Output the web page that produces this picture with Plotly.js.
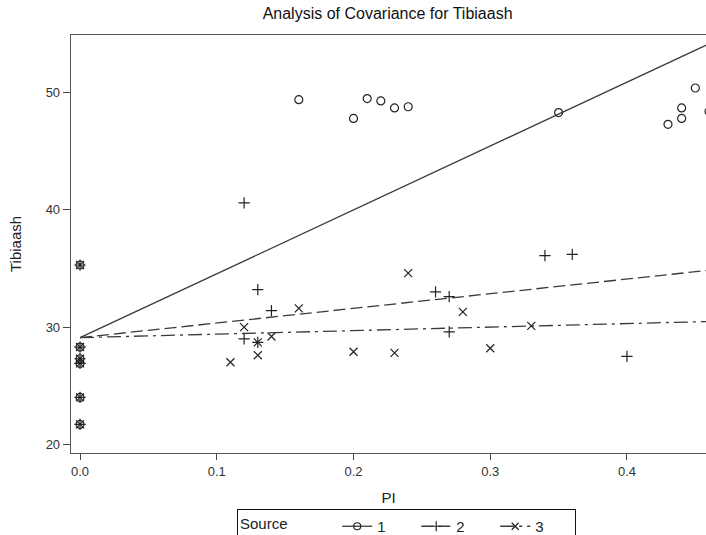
<!DOCTYPE html>
<html>
<head>
<meta charset="utf-8">
<script src="https://cdn.plot.ly/plotly-3.0.1.min.js"></script>
<style>html,body{margin:0;padding:0;background:#fff;}</style>
</head>
<body>
<div id="chart" style="width:706px;height:535px;"></div>
<script>
// Source groups
var groupNames = ["1", "2", "3"];

// Group 1 (circles)
var pi1  = [0, 0, 0, 0, 0, 0, 0.16, 0.20, 0.21, 0.22, 0.23, 0.24, 0.35, 0.43, 0.44, 0.44, 0.45, 0.46];
var tib1 = [35.3, 28.3, 27.3, 26.9, 24.0, 21.7, 49.4, 47.8, 49.5, 49.3, 48.7, 48.8, 48.3, 47.3, 48.7, 47.8, 50.4, 48.4];

// Group 2 (plus)
var pi2  = [0, 0, 0, 0, 0, 0, 0.12, 0.13, 0.14, 0.12, 0.13, 0.26, 0.27, 0.27, 0.34, 0.36, 0.40];
var tib2 = [35.3, 28.3, 27.3, 26.9, 24.0, 21.7, 40.6, 33.2, 31.4, 29.0, 28.7, 33.0, 32.6, 29.6, 36.1, 36.2, 27.5];

// Group 3 (x)
var pi3  = [0, 0, 0, 0, 0, 0, 0.11, 0.12, 0.13, 0.13, 0.14, 0.16, 0.20, 0.23, 0.24, 0.28, 0.30, 0.33];
var tib3 = [35.3, 28.3, 27.3, 26.9, 24.0, 21.7, 27.0, 30.0, 27.6, 28.7, 29.2, 31.6, 27.9, 27.8, 34.6, 31.3, 28.2, 30.1];

// Fitted ANCOVA lines (common intercept, separate slopes)
var fitIntercept = [29.1, 29.1, 29.1];
var fitSlope = [54.5, 12.5, 3.0];

var xTicks = [0, 0.1, 0.2, 0.3, 0.4];
var yTicks = [20, 30, 40, 50];

var piData = [pi1, pi2, pi3];
var tibData = [tib1, tib2, tib3];
var symbols = ["circle-open", "cross-thin-open", "x-thin-open"];
var dashes = ["solid", "12px,5px", "14px,5px,3px,5px"];
var ink = "#222";
var lineInk = "#3a3a3a";

var traces = [];
var xMaxAll = Math.max.apply(null, pi1.concat(pi2, pi3));
for (var g = 0; g < 3; g++) {
  var fx = [0, xMaxAll];
  var fy = fx.map(function (x) { return fitIntercept[g] + fitSlope[g] * x; });
  traces.push({
    x: fx, y: fy, mode: "lines", type: "scatter", showlegend: false,
    line: {color: lineInk, width: 1.3, dash: dashes[g]}, hoverinfo: "skip"
  });
}
for (var g = 0; g < 3; g++) {
  traces.push({
    x: piData[g], y: tibData[g], mode: "markers", type: "scatter", showlegend: false,
    name: groupNames[g],
    marker: {symbol: symbols[g], size: 8, color: ink, line: {color: ink, width: 1.2}}
  });
}
// legend entries (line + marker sample)
for (var g = 0; g < 3; g++) {
  traces.push({
    x: [null], y: [null], mode: "lines+markers", type: "scatter", name: groupNames[g],
    line: {color: lineInk, width: 1.3, dash: dashes[g]},
    marker: {symbol: symbols[g], size: 7, color: ink, line: {color: ink, width: 1.2}}
  });
}

var NB = "\u00a0";
var layout = {
  width: 706, height: 535,
  margin: {l: 71, r: 0, t: 35, b: 82, autoexpand: false},
  paper_bgcolor: "#fff", plot_bgcolor: "#fff",
  font: {family: "Liberation Sans, Arial, sans-serif", size: 13, color: ink},
  title: {text: "Analysis of Covariance for Tibiaash", x: 0.549, xanchor: "center", y: 0.985, yanchor: "top",
          font: {size: 16, color: "#111"}},
  xaxis: {
    range: [-0.0066, 0.4578], tickvals: xTicks, ticktext: xTicks.map(function(v){return v.toFixed(1);}),
    showgrid: false, zeroline: false, showline: true, mirror: true, linecolor: "#555", linewidth: 1.3,
    ticks: "outside", ticklen: 6, tickcolor: "#444", tickwidth: 1, automargin: false,
    title: {text: "PI", font: {size: 15}, standoff: 14},
    tickfont: {size: 13, color: "#333"}
  },
  yaxis: {
    range: [19.26, 54.92], tickvals: yTicks, automargin: false,
    showgrid: false, zeroline: false, showline: true, linecolor: "#555", linewidth: 1.3,
    ticks: "outside", ticklen: 7, tickcolor: "#444", tickwidth: 1,
    title: {text: "Tibiaash", font: {size: 15}, standoff: 20},
    tickfont: {size: 13, color: "#333"}
  },
  showlegend: true,
  legend: {
    orientation: "h", xref: "container", yref: "container",
    x: 0.3357, xanchor: "left", y: 0.0486, yanchor: "top",
    bordercolor: "#111", borderwidth: 1, bgcolor: "#fff",
    title: {text: "Source" + NB.repeat(10), side: "left", font: {size: 15}},
    font: {size: 15}, entrywidth: 34, entrywidthmode: "pixels"
  }
};

Plotly.newPlot("chart", traces, layout, {displayModeBar: false, staticPlot: true});
</script>
</body>
</html>
